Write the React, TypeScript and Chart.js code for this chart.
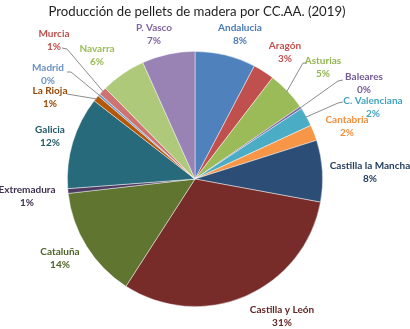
import { useEffect, useRef } from "react";
import { Chart, registerables } from "chart.js";

Chart.register(...registerables);

const TITLE = "Producción de pellets de madera por CC.AA. (2019)";

const regions = [
  "Andalucia",
  "Aragón",
  "Asturias",
  "Baleares",
  "C. Valenciana",
  "Cantabria",
  "Castilla la Mancha",
  "Castilla y León",
  "Cataluña",
  "Extremadura",
  "Galicia",
  "La Rioja",
  "Madrid",
  "Murcia",
  "Navarra",
  "P. Vasco",
];

const shares = [7.7, 2.7, 5.0, 0.3, 2.4, 2.0, 7.8, 31.2, 14.1, 0.6, 11.7, 0.8, 0.3, 1.0, 5.7, 6.7];

const sliceColors = [
  "#4F81BD", "#C0504D", "#9BBB59", "#8064A2", "#4BACC6", "#F79646",
  "#2C4D75", "#772C2A", "#5F7530", "#4D3B62", "#276A7C", "#B65708",
  "#729ACA", "#CD7371", "#AFC97A", "#9983B5",
];

const labelColors = [
  "#4A7BB7", "#C0504D", "#93B452", "#735A96", "#43A4BE", "#F38F3E",
  "#243F60", "#632523", "#4F6228", "#3F3151", "#215968", "#984807",
  "#6A92C4", "#C0504D", "#9BBB59", "#8064A2",
];

// layout: label centre (first line) for each slice
const LABEL_POS: [number, number][] = [
  [240, 28], [285, 46], [323, 61], [364, 77], [373, 101], [347, 120],
  [370, 166], [282, 310], [60, 252], [27, 190], [50, 130], [50, 91],
  [48, 68], [54, 34], [97, 49], [154, 28],
];

// layout: leader line starting points (then to slice edge)
const LEADERS: Record<number, [number, number][]> = {
  2: [[307, 63], [303, 63]],
  3: [[343, 80], [338, 81]],
  4: [[343, 102], [338, 103]],
  11: [[67, 94]],
  12: [[67, 72], [71, 72]],
  13: [[62, 48], [67, 49]],
};

const labelsPlugin = {
  id: "pieLabels",
  afterDraw(chart: any) {
    const ctx = chart.ctx as CanvasRenderingContext2D;
    const meta = chart.getDatasetMeta(0);
    ctx.save();
    // title
    ctx.fillStyle = "#1f1f1f";
    ctx.font = "13.2px Lato";
    ctx.textAlign = "center";
    ctx.textBaseline = "middle";
    ctx.fillText(TITLE, 197, 12);

    meta.data.forEach((arc: any, i: number) => {
      const p = arc.getProps(["x", "y", "startAngle", "endAngle", "outerRadius"], true);
      const mid = (p.startAngle + p.endAngle) / 2;
      const lead = LEADERS[i];
      if (lead) {
        const ex = p.x + Math.cos(mid) * p.outerRadius * 0.99;
        const ey = p.y + Math.sin(mid) * p.outerRadius * 0.99;
        ctx.strokeStyle = "#8c8c8c";
        ctx.lineWidth = 1;
        ctx.beginPath();
        ctx.moveTo(lead[0][0], lead[0][1]);
        for (let k = 1; k < lead.length; k++) ctx.lineTo(lead[k][0], lead[k][1]);
        ctx.lineTo(ex, ey);
        ctx.stroke();
      }
      const [lx, ly] = LABEL_POS[i];
      ctx.fillStyle = labelColors[i];
      ctx.font = "bold 10px Lato";
      ctx.textAlign = "center";
      ctx.textBaseline = "middle";
      ctx.fillText(regions[i], lx, ly);
      ctx.fillText(Math.round(shares[i]) + "%", lx, ly + 12.5);
    });
    ctx.restore();
  },
};

export default function App() {
  const ref = useRef<HTMLCanvasElement>(null);
  useEffect(() => {
    document.body.style.margin = "0";
    const canvas = ref.current!;
    const chart = new Chart(canvas, {
      type: "pie",
      data: {
        labels: regions,
        datasets: [
          {
            data: shares,
            backgroundColor: sliceColors,
            borderColor: "rgba(255,255,255,0.6)",
            borderWidth: 0.75,
          },
        ],
      },
      options: {
        animation: false,
        responsive: false,
        devicePixelRatio: 1,
        layout: { padding: { left: 67, right: 87, top: 51, bottom: 22 } },
        plugins: {
          legend: { display: false },
          title: { display: false },
          tooltip: { enabled: false },
        },
      },
      plugins: [labelsPlugin],
    });
    return () => chart.destroy();
  }, []);
  return (
    <div style={{ width: 410, height: 329, background: "#fff" }}>
      <canvas ref={ref} width={410} height={329} style={{ display: "block" }} />
    </div>
  );
}
